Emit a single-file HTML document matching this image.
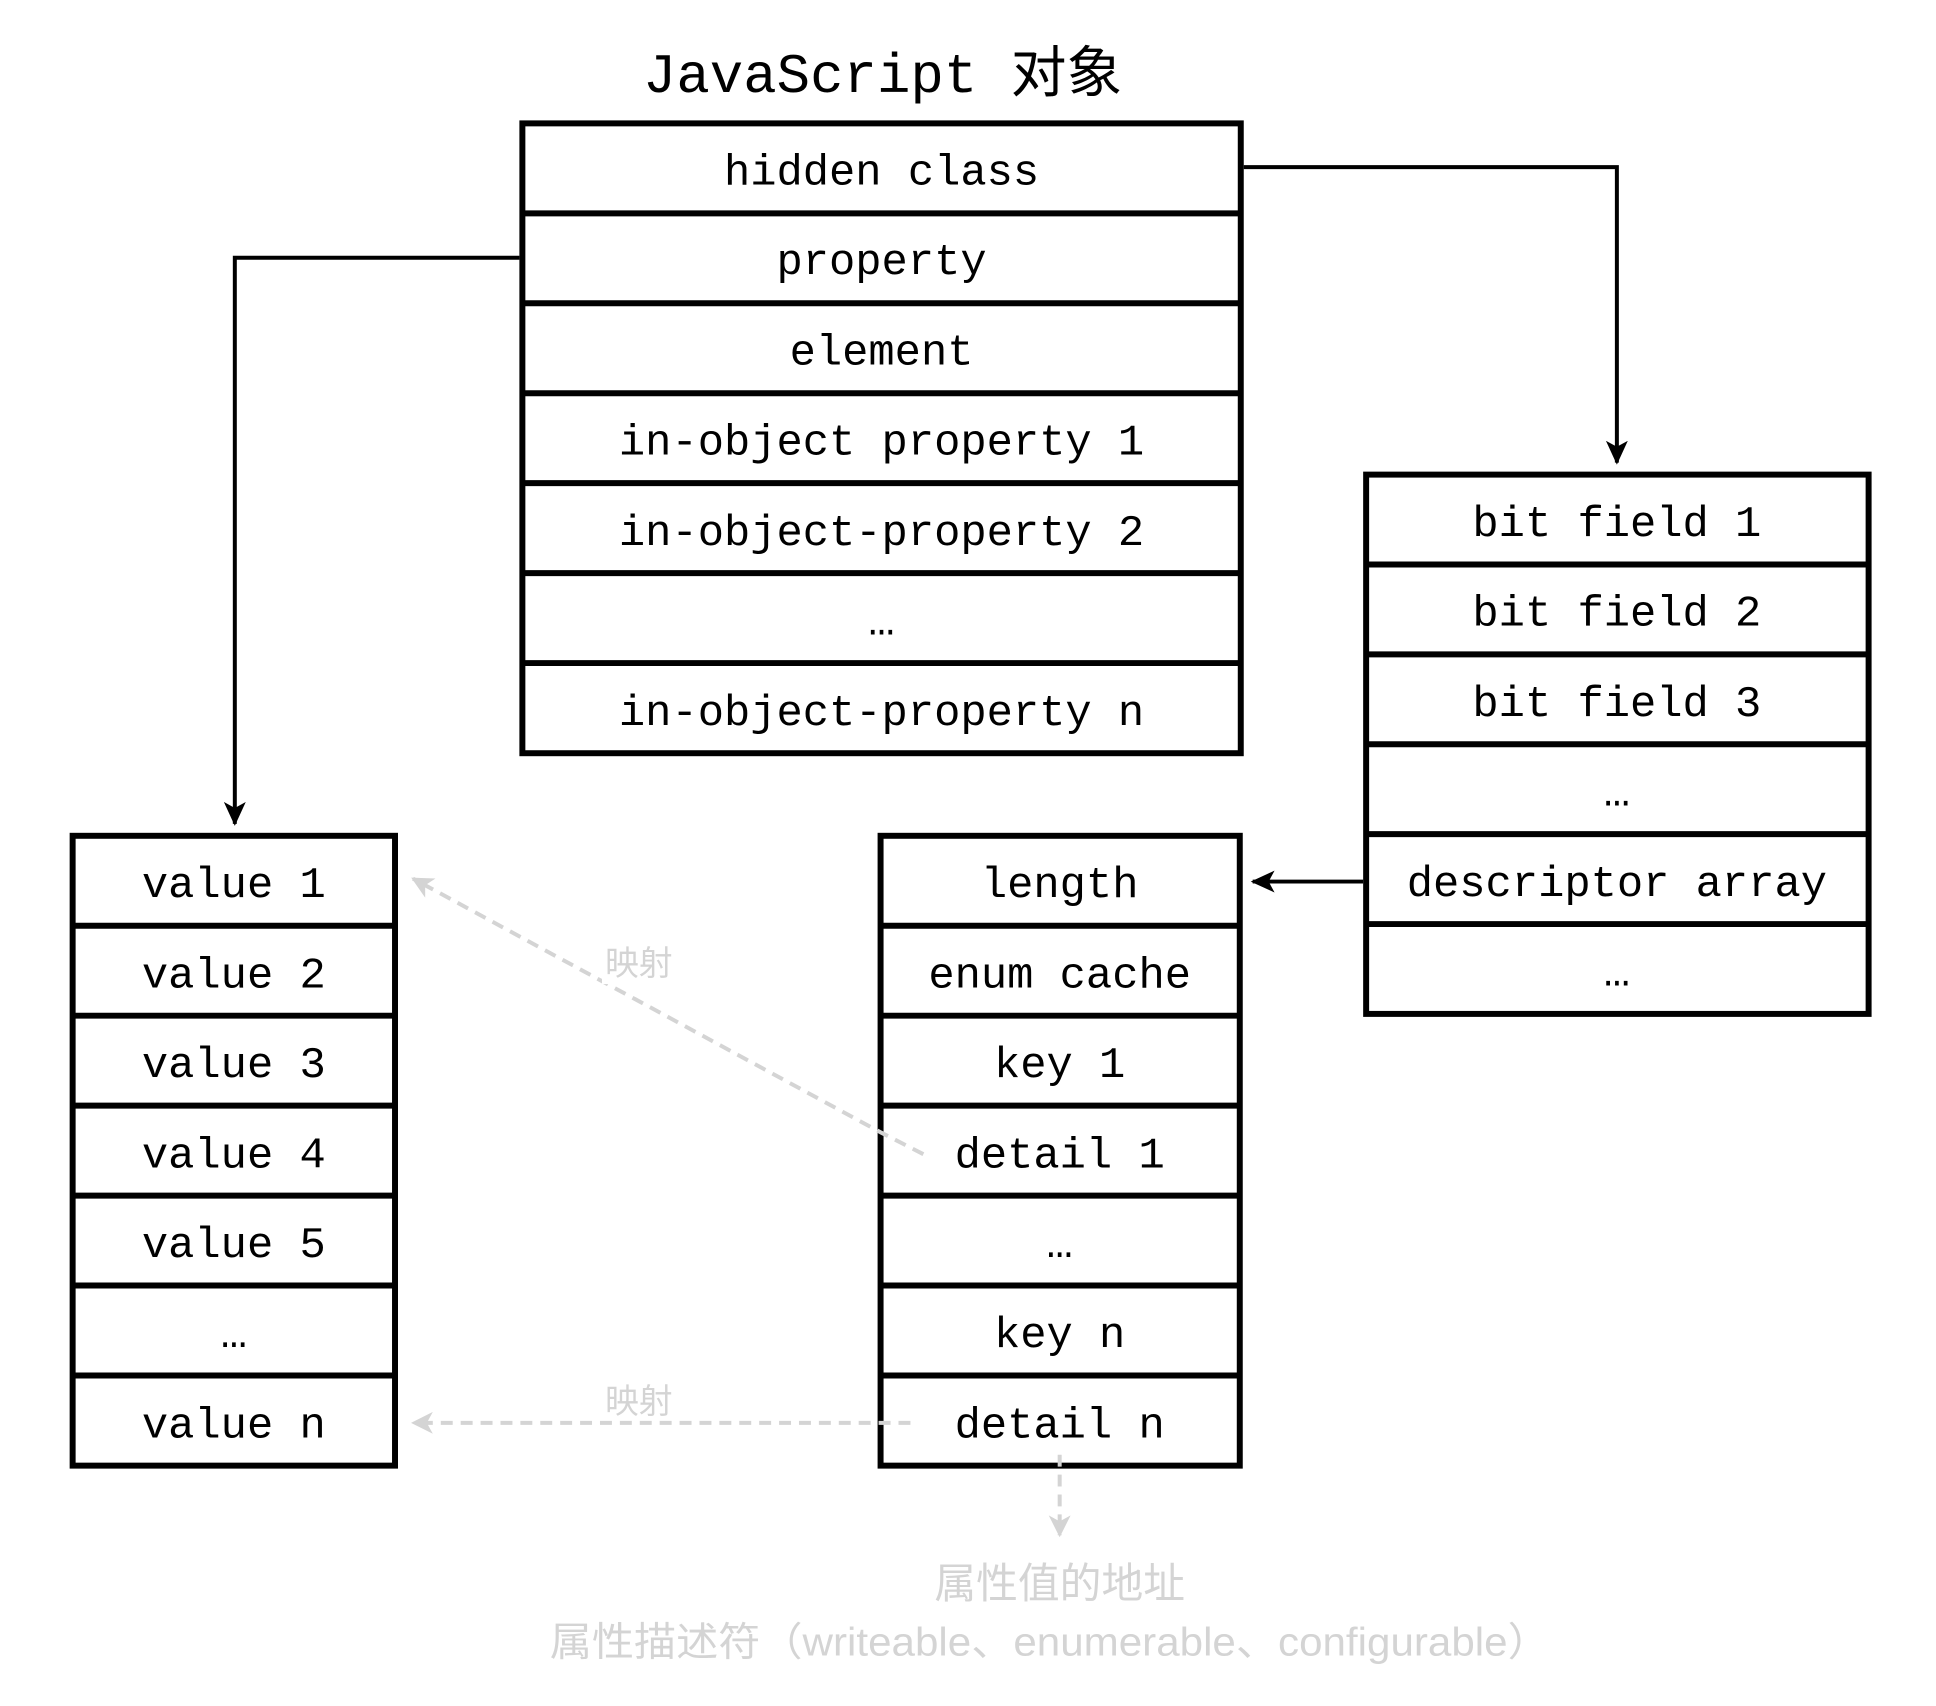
<!DOCTYPE html>
<html><head><meta charset="utf-8"><style>
html,body{margin:0;padding:0;background:#fff;}
svg{display:block;}
.t{font-family:"Liberation Mono","Noto Sans CJK SC",monospace;font-size:44px;fill:#000;text-anchor:middle;dominant-baseline:central;}
.g{font-family:"Liberation Sans","Noto Sans CJK SC",sans-serif;fill:#d4d4d4;text-anchor:middle;}
</style></head><body>
<svg width="1936" height="1706" viewBox="0 0 1936 1706" xmlns="http://www.w3.org/2000/svg">
<defs>
<marker id="ag" markerWidth="22" markerHeight="22" refX="20" refY="11" orient="auto" markerUnits="userSpaceOnUse" viewBox="0 0 22 22"><path d="M0,0 L22,11 L0,22 L6,11z" fill="#d4d4d4"/></marker>
<marker id="ab" markerWidth="24" markerHeight="22" refX="22" refY="11" orient="auto" markerUnits="userSpaceOnUse" viewBox="0 0 24 22"><path d="M0,0 L24,11 L0,22 L6,11z" fill="#000"/></marker>
</defs>
<g transform="scale(0.995)">
<text x="887" y="78" class="t" style="font-size:56px">JavaScript 对象</text>

<g fill="none" stroke="#000" stroke-width="6">
<rect x="525" y="124" width="722" height="633"/>
<path d="M525 214.4H1247M525 304.8H1247M525 395.2H1247M525 485.6H1247M525 576H1247M525 666.4H1247"/>
<rect x="1373" y="477" width="505" height="542"/>
<path d="M1373 567.3H1878M1373 657.7H1878M1373 748H1878M1373 838.3H1878M1373 928.7H1878"/>
<rect x="73" y="840" width="324" height="633"/>
<path d="M73 930.4H397M73 1020.8H397M73 1111.2H397M73 1201.6H397M73 1292H397M73 1382.4H397"/>
<rect x="885" y="840" width="361" height="633"/>
<path d="M885 930.4H1246M885 1020.8H1246M885 1111.2H1246M885 1201.6H1246M885 1292H1246M885 1382.4H1246"/>
</g>

<g fill="none" stroke="#000" stroke-width="4">
<path d="M1250 168H1625V465" marker-end="url(#ab)"/>
<path d="M522 259H236V828" marker-end="url(#ab)"/>
<path d="M1370 886H1259" marker-end="url(#ab)"/>
</g>

<g fill="none" stroke="#d4d4d4" stroke-width="4" stroke-dasharray="12 8">
<path d="M928 1160L885 1138L415 883" marker-end="url(#ag)"/>
<path d="M915 1430H415" marker-end="url(#ag)"/>
<path d="M1065 1462V1543" marker-end="url(#ag)"/>
</g>
<rect x="605" y="945" width="74" height="44" fill="#fff"/>
<text x="642" y="980" class="g" style="font-size:34px">映射</text>
<text x="642" y="1420" class="g" style="font-size:34px">映射</text>
<text x="1065" y="1606" class="g" style="font-size:42px">属性值的地址</text>
<text x="1055" y="1664" class="g" style="font-size:40px" textLength="1005" lengthAdjust="spacingAndGlyphs">属性描述符（writeable、enumerable、configurable）</text>

<g class="t" transform="translate(0,6)">
<text x="886" y="169">hidden class</text>
<text x="886" y="259">property</text>
<text x="886" y="350">element</text>
<text x="886" y="440">in-object property 1</text>
<text x="886" y="531">in-object-property 2</text>
<text x="886" y="621">…</text>
<text x="886" y="712">in-object-property n</text>

<text x="1625" y="522">bit field 1</text>
<text x="1625" y="612">bit field 2</text>
<text x="1625" y="703">bit field 3</text>
<text x="1625" y="793">…</text>
<text x="1625" y="884">descriptor array</text>
<text x="1625" y="974">…</text>

<text x="235" y="885">value 1</text>
<text x="235" y="976">value 2</text>
<text x="235" y="1066">value 3</text>
<text x="235" y="1157">value 4</text>
<text x="235" y="1247">value 5</text>
<text x="235" y="1337">…</text>
<text x="235" y="1428">value n</text>

<text x="1065" y="885">length</text>
<text x="1065" y="976">enum cache</text>
<text x="1065" y="1066">key 1</text>
<text x="1065" y="1157">detail 1</text>
<text x="1065" y="1247">…</text>
<text x="1065" y="1337">key n</text>
<text x="1065" y="1428">detail n</text>
</g>
</g>
</svg>
</body></html>
